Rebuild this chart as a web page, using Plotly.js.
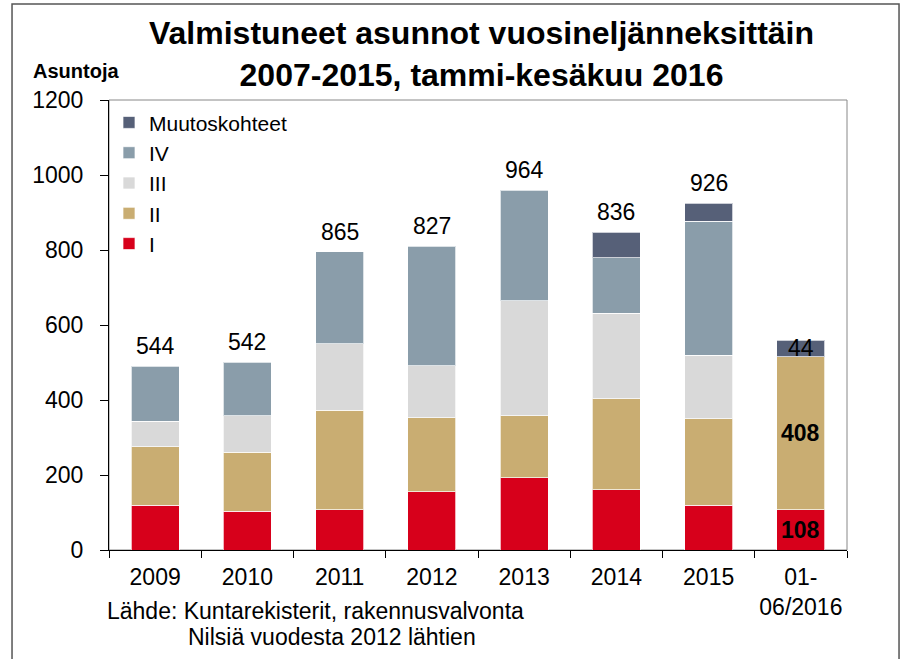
<!DOCTYPE html>
<html>
<head>
<meta charset="utf-8">
<script src="https://cdn.plot.ly/plotly-3.0.1.min.js"></script>
<style>
  html, body { margin: 0; padding: 0; background: #fff; }
  #chart { width: 900px; height: 659px; }
</style>
</head>
<body>
<div id="chart"></div>
<script>
// ---- data ----
const categories = ['2009', '2010', '2011', '2012', '2013', '2014', '2015', '01-<br>06/2016'];
const seriesI    = [120, 103, 108, 156, 193, 161, 120, 108];
const seriesII   = [155, 158, 265, 197, 165, 243, 230, 408];
const seriesIII  = [68, 97, 177, 139, 307, 227, 169, null];
const seriesIV   = [147, 143, 245, 318, 294, 149, 358, null];
const seriesMuutos = [null, null, null, null, null, 67, 48, 44];
const totalLabels = [544, 542, 865, 827, 964, 836, 926, null];
const seriesNames = ['I', 'II', 'III', 'IV', 'Muutoskohteet'];
const seriesColors = ['#D7001B', '#C9AD72', '#D9D9D9', '#8A9DAA', '#566078'];
const titleLine1 = 'Valmistuneet asunnot vuosineljänneksittäin';
const titleLine2 = '2007-2015, tammi-kesäkuu 2016';

const FONT = 'Liberation Sans, Arial, sans-serif';
const allSeries = [seriesI, seriesII, seriesIII, seriesIV, seriesMuutos];

const traces = allSeries.map((vals, i) => ({
  type: 'bar',
  name: seriesNames[i],
  x: categories,
  y: vals,
  marker: { color: seriesColors[i], line: { color: 'rgba(255,255,255,0.7)', width: 1 } },
  hoverinfo: 'x+y+name'
}));

// stack tops
const stackTop = categories.map((c, k) => allSeries.reduce((s, arr) => s + (arr[k] || 0), 0));

const annotations = [];
categories.forEach((c, k) => {
  if (totalLabels[k] != null) {
    annotations.push({
      x: k, y: stackTop[k], xref: 'x', yref: 'y',
      text: String(totalLabels[k]), showarrow: false,
      yanchor: 'middle', yshift: 20,
      font: { family: FONT, size: 23, color: '#000' }
    });
  }
});
// last column: values written inside segments
const last = categories.length - 1;
let base = 0;
[[seriesI, true], [seriesII, true], [seriesIII, false], [seriesIV, false], [seriesMuutos, false]].forEach(([arr, bold]) => {
  const v = arr[last];
  if (v != null) {
    annotations.push({
      x: last, y: base + v / 2, xref: 'x', yref: 'y',
      text: bold ? '<b>' + v + '</b>' : String(v), showarrow: false,
      yanchor: 'middle',
      font: { family: FONT, size: 23, color: '#000' }
    });
    base += v;
  }
});
// y-axis caption
annotations.push({
  xref: 'paper', yref: 'paper', x: -0.106, y: 1.064, xanchor: 'left', yanchor: 'middle',
  text: '<b>Asuntoja</b>', showarrow: false,
  font: { family: FONT, size: 20, color: '#000' }
});
// source notes
annotations.push({
  xref: 'paper', yref: 'paper', x: -0.0054, y: -0.136, xanchor: 'left', yanchor: 'middle',
  text: 'Lähde: Kuntarekisterit, rakennusvalvonta', showarrow: false,
  font: { family: FONT, size: 23, color: '#000' }
});
annotations.push({
  xref: 'paper', yref: 'paper', x: 0.1043, y: -0.193, xanchor: 'left', yanchor: 'middle',
  text: 'Nilsiä vuodesta 2012 lähtien', showarrow: false,
  font: { family: FONT, size: 23, color: '#000' }
});

const layout = {
  width: 900, height: 659,
  margin: { l: 109, r: 53, t: 100, b: 109, pad: 0 },
  paper_bgcolor: '#fff', plot_bgcolor: '#fff',
  font: { family: FONT, size: 23, color: '#000' },
  title: {
    text: '<b>' + titleLine1 + '<br>' + titleLine2 + '</b>',
    font: { family: FONT, size: 32, color: '#000' },
    xref: 'container', yref: 'container', x: 0.535, xanchor: 'center',
    y: 0.933, yanchor: 'middle'
  },
  barmode: 'stack',
  bargap: 0.48,
  showlegend: true,
  legend: {
    x: 0.0, y: 0.995, xanchor: 'left', yanchor: 'top',
    font: { family: FONT, size: 21, color: '#000' },
    bgcolor: 'rgba(0,0,0,0)', borderwidth: 0,
    traceorder: 'reversed'
  },
  xaxis: {
    type: 'category',
    range: [-0.5, categories.length - 0.5],
    showgrid: false, zeroline: false,
    showline: true, linecolor: '#000', linewidth: 1,
    ticks: 'outside', ticklen: 7, tickcolor: '#000', tickson: 'boundaries',
    tickangle: 0, ticklabelstandoff: 6,
    tickfont: { family: FONT, size: 23, color: '#000' },
    fixedrange: true
  },
  yaxis: {
    range: [0, 1200], dtick: 200,
    showgrid: false, zeroline: false,
    showline: true, linecolor: '#000', linewidth: 1,
    ticks: 'outside', ticklen: 8, tickcolor: '#000',
    ticklabelstandoff: 12,
    tickfont: { family: FONT, size: 23, color: '#000' },
    fixedrange: true
  },
  shapes: [
    { type: 'rect', xref: 'paper', yref: 'paper', x0: 0, x1: 1, y0: 0, y1: 1,
      line: { color: '#888', width: 1 }, layer: 'below' },
    { type: 'rect', xref: 'paper', yref: 'paper', x0: -0.1314, x1: 1.0705, y0: -0.5, y1: 1.2133,
      line: { color: '#555', width: 1.5 }, layer: 'below' }
  ],
  annotations: annotations
};

Plotly.newPlot('chart', traces, layout, { displayModeBar: false, staticPlot: true });
</script>
</body>
</html>
